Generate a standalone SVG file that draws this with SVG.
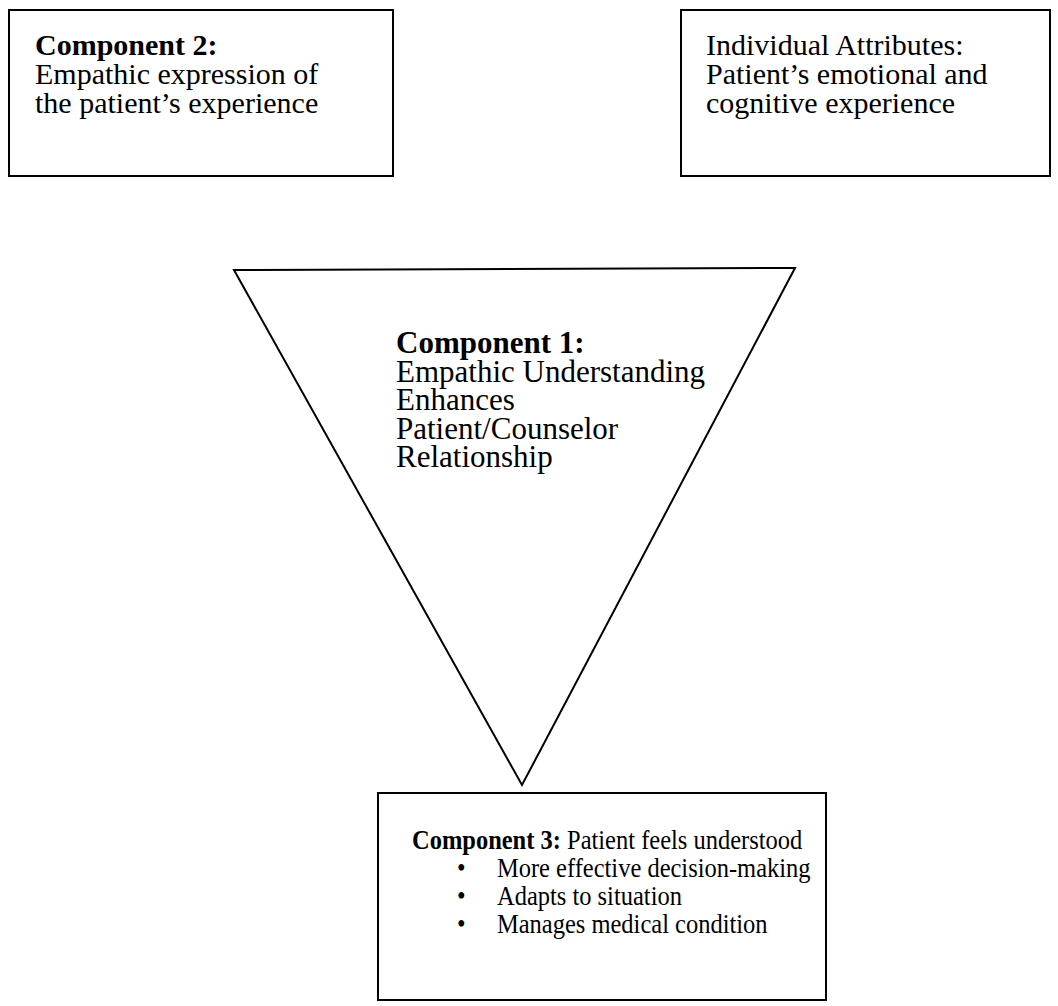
<svg xmlns="http://www.w3.org/2000/svg" width="1058" height="1006" viewBox="0 0 1058 1006">
<style>
.shape{fill:#fff;stroke:#000;stroke-width:2}
text{font-family:"Liberation Serif","Times New Roman",serif;font-size:30px;fill:#000}
.tri{font-size:31px}
.low{font-size:27px}
.b{font-weight:bold}
</style>
<rect width="1058" height="1006" fill="#fff"/>
<g id="component2">
<rect class="shape" x="9" y="10" width="384" height="166"/>
<text x="35" y="55"><tspan class="b">Component 2:</tspan><tspan x="35" dy="29">Empathic expression of</tspan><tspan x="35" dy="29">the patient’s experience</tspan></text>
</g>
<g id="attributes">
<rect class="shape" x="681" y="10" width="369" height="166"/>
<text x="706" y="55">Individual Attributes:<tspan x="706" dy="29">Patient’s emotional and</tspan><tspan x="706" dy="29">cognitive experience</tspan></text>
</g>
<g id="component1">
<polygon class="shape" points="234,270 795,268 522,785"/>
<text class="tri" x="396" y="353"><tspan class="b">Component 1:</tspan><tspan x="396" dy="28.5">Empathic Understanding</tspan><tspan x="396" dy="28.5">Enhances</tspan><tspan x="396" dy="28.5">Patient/Counselor</tspan><tspan x="396" dy="28.5">Relationship</tspan></text>
</g>
<g id="component3">
<rect class="shape" x="378" y="793" width="448" height="207"/>
<g transform="matrix(0.907,0,0,1,38.3,0)">
<text class="low" x="412" y="849"><tspan class="b">Component 3:</tspan> Patient feels understood</text>
<text class="low" x="461.6" y="877">•</text><text class="low" x="505.7" y="877">More effective decision-making</text>
<text class="low" x="461.6" y="905">•</text><text class="low" x="505.7" y="905">Adapts to situation</text>
<text class="low" x="461.6" y="933">•</text><text class="low" x="505.7" y="933">Manages medical condition</text>
</g>
</g>
<g id="connectors"></g>
</svg>
